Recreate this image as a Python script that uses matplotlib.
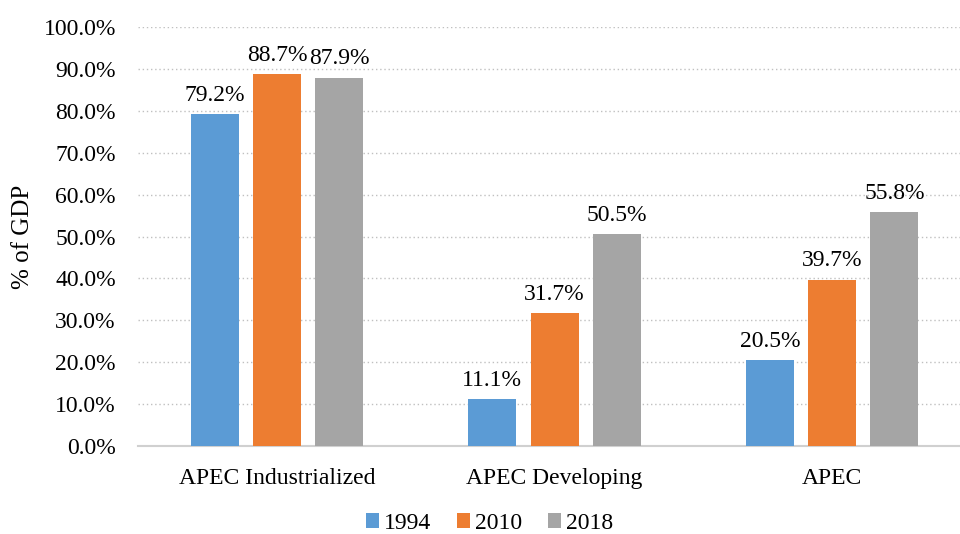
import matplotlib.pyplot as plt
import numpy as np

plt.rcParams['font.family'] = ['Liberation Serif', 'DejaVu Serif']

# データ
categories = ['APEC Industrialized', 'APEC Developing', 'APEC']
years = ['1994', '2010', '2018']
v1994 = [79.2, 11.1, 20.5]
v2010 = [88.7, 31.7, 39.7]
v2018 = [87.9, 50.5, 55.8]
colors = ['#5B9BD5', '#ED7D31', '#A5A5A5']

fig = plt.figure(figsize=(9.6, 5.34), dpi=100)
ax = fig.add_axes([0.1438, 0.1648, 0.8562, 0.7846])

x = np.arange(len(categories))
w = 0.173
step = 0.224
for i, (vals, yr) in enumerate(zip([v1994, v2010, v2018], years)):
    bars = ax.bar(x + (i - 1) * step, vals, w, color=colors[i], label=yr, zorder=3)
    for b, v in zip(bars, vals):
        ax.annotate(f'{v:.1f}%', (b.get_x() + b.get_width() / 2, v),
                    xytext=(0, 6), textcoords='offset points',
                    ha='center', va='bottom', fontsize=17)

ax.set_ylim(0, 100)
ax.set_xlim(-0.5, 2.46)
ax.set_yticks(np.arange(0, 101, 10))
ax.set_yticklabels([f'{t:.1f}%' for t in np.arange(0, 101, 10)], fontsize=17)
ax.set_xticks(x)
ax.set_xticklabels(categories, fontsize=17)
ax.tick_params(axis='y', length=0, pad=16)
ax.tick_params(axis='x', length=0, pad=16)
ax.yaxis.grid(True, linestyle=(0, (1, 2)), color='#c0c0c0', linewidth=1.0, zorder=0)
for s in ['top', 'right', 'left']:
    ax.spines[s].set_visible(False)
ax.spines['bottom'].set_color('#d0d0d0')
ax.spines['bottom'].set_linewidth(1.5)
ax.set_ylabel('% of GDP', fontsize=18)
ax.yaxis.set_label_coords(-0.126, 0.5)

fig.legend(loc='center', bbox_to_anchor=(0.51, 0.02), ncol=3, frameon=False,
           fontsize=17, handlelength=0.55, handleheight=0.55, handletextpad=0.2,
           columnspacing=1.1)

fig.savefig('out.png', dpi=100)
